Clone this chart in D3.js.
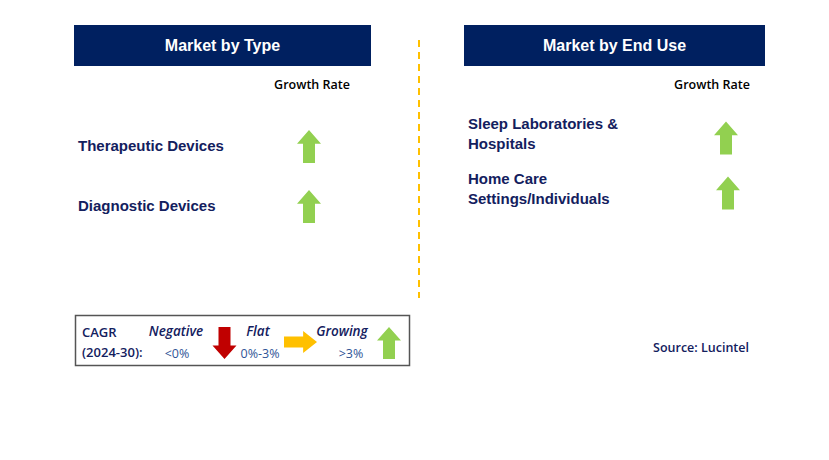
<!DOCTYPE html>
<html>
<head>
<meta charset="utf-8">
<script src="https://cdn.jsdelivr.net/npm/d3@7"></script>
<style>
  body { margin: 0; background: #fff; }
  #viz svg { display: block; }
</style>
</head>
<body>
<div id="viz"></div>
<script>
// data
const typeSegments = ["Therapeutic Devices", "Diagnostic Devices"];
const typeGrowth = ["up", "up"];
const endUseSegments = [["Sleep Laboratories &", "Hospitals"], ["Home Care", "Settings/Individuals"]];
const endUseGrowth = ["up", "up"];
const legendLabels = ["Negative", "Flat", "Growing"];
const legendRanges = ["<0%", "0%-3%", ">3%"];
const legendDirs = ["down", "right", "up"];

const WIDTH = 829, HEIGHT = 460;
const COLORS = {
  header: "#002060",
  navy: "#13205e",
  steel: "#2f5496",
  up: "#92d050",
  down: "#c00000",
  right: "#ffc000",
  divider: "#ffc000"
};

const svg = d3.select("#viz").append("svg")
  .attr("width", WIDTH)
  .attr("height", HEIGHT);

// arrow shape, drawn in box w x h, pointing up, then rotated
function arrowPath(dir, w, h) {
  // w across, h along direction
  const sw = w * 0.5, hh = h * 0.42;
  const a = (w - sw) / 2;
  const pts = [[w / 2, 0], [w, hh], [w - a, hh], [w - a, h], [a, h], [a, hh], [0, hh]];
  let p = pts;
  if (dir === "down") p = pts.map(([x, y]) => [x, h - y]);
  if (dir === "right") p = pts.map(([x, y]) => [h - y, x]);
  return "M" + p.map(d => d.join(",")).join("L") + "Z";
}

function drawArrow(g, dir, cx, cy, w, h) {
  const bw = dir === "right" ? h : w, bh = dir === "right" ? w : h;
  g.append("path")
    .attr("transform", `translate(${cx - bw / 2},${cy - bh / 2})`)
    .attr("d", arrowPath(dir, w, h))
    .attr("fill", COLORS[dir]);
}

function panel(x0, x1, title, growthX) {
  const g = svg.append("g");
  g.append("rect")
    .attr("x", x0).attr("y", 25)
    .attr("width", x1 - x0).attr("height", 41)
    .attr("fill", COLORS.header);
  g.append("text")
    .attr("x", (x0 + x1) / 2).attr("y", 45.5)
    .attr("text-anchor", "middle")
    .attr("dominant-baseline", "central")
    .attr("fill", "#fff")
    .style("font-family", "Liberation Sans, Arial, sans-serif")
    .style("font-weight", "bold")
    .style("font-size", "16px")
    .text(title);
  g.append("text")
    .attr("x", growthX).attr("y", 84)
    .attr("text-anchor", "middle")
    .attr("dominant-baseline", "central")
    .attr("fill", "#000")
    .style("font-family", "Open Sans, Noto Sans, sans-serif")
    .style("font-weight", "600")
    .style("font-size", "12.5px")
    .text("Growth Rate");
  return g;
}

// left panel
const left = panel(74, 371, "Market by Type", 312);
const yType = d3.scalePoint().domain(typeSegments).range([145, 205]);
typeSegments.forEach((s, i) => {
  left.append("text")
    .attr("x", 78).attr("y", yType(s))
    .attr("dominant-baseline", "central")
    .attr("fill", COLORS.navy)
    .style("font-family", "Liberation Sans, Arial, sans-serif")
    .style("font-weight", "bold")
    .style("font-size", "15px")
    .text(s);
  drawArrow(left, typeGrowth[i], 309, yType(s) + 1.5, 24, 33);
});

// right panel
const right = panel(464, 765, "Market by End Use", 712);
const yEnd = d3.scalePoint().domain(d3.range(endUseSegments.length)).range([133, 188]);
endUseSegments.forEach((lines, i) => {
  const t = right.append("text")
    .attr("fill", COLORS.navy)
    .style("font-family", "Liberation Sans, Arial, sans-serif")
    .style("font-weight", "bold")
    .style("font-size", "15px");
  lines.forEach((l, j) => {
    t.append("tspan")
      .attr("x", 468)
      .attr("y", yEnd(i) - 10 + j * 20)
      .attr("dominant-baseline", "central")
      .text(l);
  });
  drawArrow(right, endUseGrowth[i], 726 + i * 2, yEnd(i) + 5, 24, 33);
});

// divider
svg.append("line")
  .attr("x1", 419).attr("x2", 419)
  .attr("y1", 40).attr("y2", 298)
  .attr("stroke", COLORS.divider)
  .attr("stroke-width", 2)
  .attr("stroke-dasharray", "7,5");

// legend box
const lg = svg.append("g");
lg.append("rect")
  .attr("x", 75.5).attr("y", 315.5)
  .attr("width", 334).attr("height", 50)
  .attr("fill", "#fff")
  .attr("stroke", "#555")
  .attr("stroke-width", 1.5);
[["CAGR", 332], ["(2024-30):", 352]].forEach(([t, y]) => {
  lg.append("text")
    .attr("x", 82).attr("y", y)
    .attr("dominant-baseline", "central")
    .attr("fill", COLORS.navy)
    .style("font-family", "Open Sans, Noto Sans, sans-serif")
    .style("font-weight", "600")
    .style("font-size", "13px")
    .text(t);
});
const labelX = [176, 258, 342];
const rangeX = [177, 260, 351];
const arrowX = [224.5, 300.5, 389];
legendLabels.forEach((l, i) => {
  lg.append("text")
    .attr("x", labelX[i]).attr("y", 331)
    .attr("text-anchor", "middle")
    .attr("dominant-baseline", "central")
    .attr("fill", COLORS.navy)
    .style("font-family", "Open Sans, Noto Sans, sans-serif")
    .style("font-weight", "600")
    .style("font-style", "italic")
    .style("font-size", "13.5px")
    .text(l);
  lg.append("text")
    .attr("x", rangeX[i]).attr("y", 353)
    .attr("text-anchor", "middle")
    .attr("dominant-baseline", "central")
    .attr("fill", COLORS.steel)
    .style("font-family", "Open Sans, Noto Sans, sans-serif")
    .style("font-size", "12.5px")
    .text(legendRanges[i]);
  if (legendDirs[i] === "right") drawArrow(lg, "right", arrowX[i], 342, 22, 33);
  else drawArrow(lg, legendDirs[i], arrowX[i], 343, 24, 32);
});

// source
svg.append("text")
  .attr("x", 749).attr("y", 347)
  .attr("text-anchor", "end")
  .attr("dominant-baseline", "central")
  .attr("fill", COLORS.navy)
  .style("font-family", "Open Sans, Noto Sans, sans-serif")
  .style("font-weight", "600")
  .style("font-size", "12.5px")
  .text("Source: Lucintel");
</script>
</body>
</html>
